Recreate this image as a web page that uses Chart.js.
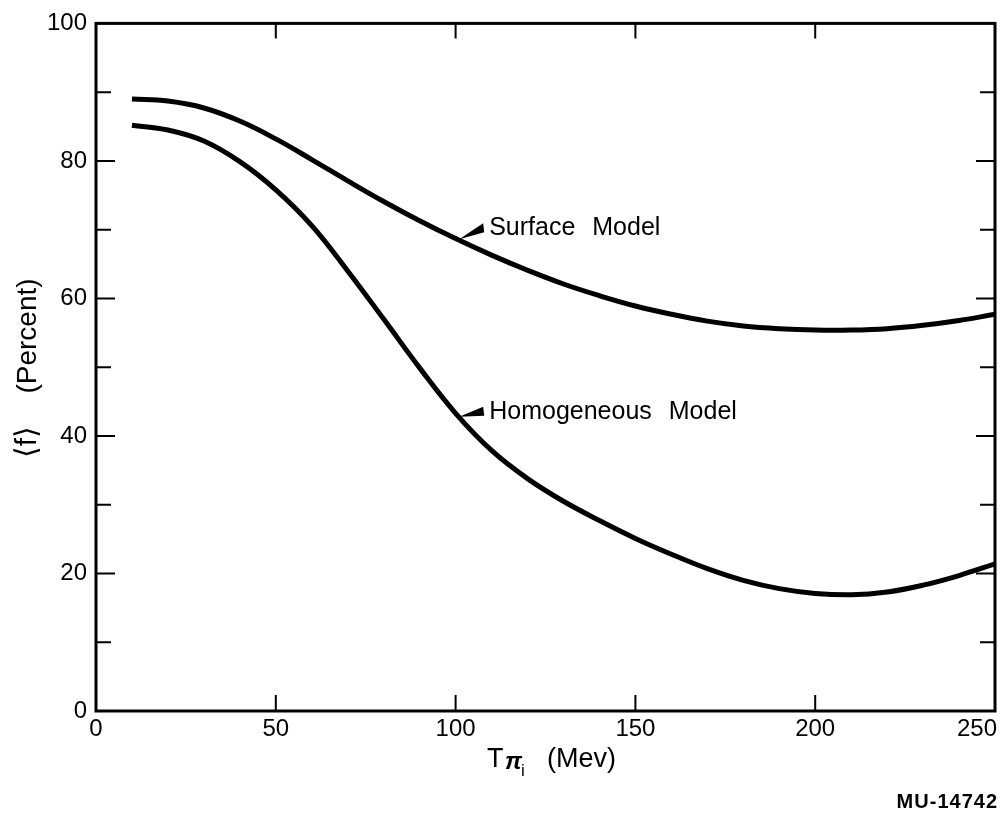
<!DOCTYPE html>
<html>
<head>
<meta charset="utf-8">
<title>Mean f vs pion energy</title>
<script src="https://cdn.jsdelivr.net/npm/chart.js@4.4.0/dist/chart.umd.min.js"></script>
<style>
  html, body { margin: 0; padding: 0; background: #fff; }
</style>
</head>
<body>
<canvas id="chart" width="1005" height="813"></canvas>
<script>
// values, every 10 Mev
var energies = [10, 20, 30, 40, 50, 60, 70, 80, 90, 100, 110, 120, 130, 140, 150, 160, 170, 180, 190, 200, 210, 220, 230, 240, 250];
var surfaceModel = [89.0, 88.7, 87.7, 85.8, 83.2, 80.2, 77.1, 74.1, 71.3, 68.7, 66.3, 64.1, 62.1, 60.4, 58.9, 57.7, 56.7, 56.0, 55.6, 55.4, 55.4, 55.6, 56.1, 56.8, 57.7];
var homogeneousModel = [85.2, 84.5, 82.9, 79.9, 75.8, 70.6, 64.0, 57.0, 49.9, 43.3, 37.9, 33.8, 30.5, 27.7, 25.1, 22.8, 20.7, 19.0, 17.8, 17.1, 16.9, 17.3, 18.3, 19.7, 21.4];

var xTicks = [0, 50, 100, 150, 200, 250];
var yTicks = [0, 20, 40, 60, 80, 100];
var yMinorTicks = [10, 30, 50, 70, 90];

var FONT = '"Liberation Sans", Arial, sans-serif';

function toPoints(ys) {
    return energies.map(function(x, i) { return { x: x, y: ys[i] }; });
}

// frame, inward ticks, titles and curve labels
var decorations = {
    id: 'decorations',
    afterDraw: function(chart) {
        var ctx = chart.ctx;
        var a = chart.chartArea;
        var xs = chart.scales.x;
        var ys = chart.scales.y;

        ctx.save();
        ctx.strokeStyle = '#000';
        ctx.fillStyle = '#000';

        // frame
        ctx.lineWidth = 3;
        ctx.strokeRect(a.left, a.top, a.right - a.left, a.bottom - a.top);

        // tick marks
        ctx.lineWidth = 2;
        ctx.beginPath();
        yTicks.concat(yMinorTicks).forEach(function(v) {
            if (v === 0 || v === 100) return;
            var py = ys.getPixelForValue(v);
            var len = yTicks.indexOf(v) >= 0 ? 19 : 15;
            ctx.moveTo(a.left, py); ctx.lineTo(a.left + len, py);
            ctx.moveTo(a.right, py); ctx.lineTo(a.right - len, py);
        });
        xTicks.forEach(function(v) {
            if (v === 0 || v === 250) return;
            var px = xs.getPixelForValue(v);
            ctx.moveTo(px, a.bottom); ctx.lineTo(px, a.bottom - 16);
            ctx.moveTo(px, a.top); ctx.lineTo(px, a.top + 15);
        });
        ctx.stroke();

        // x tick labels (last one pulled inside the page like the original)
        ctx.font = '24px ' + FONT;
        ctx.textBaseline = 'middle';
        ctx.textAlign = 'center';
        xTicks.forEach(function(v) {
            var label = String(v);
            var w = ctx.measureText(label).width;
            var px = Math.min(xs.getPixelForValue(v), chart.width - 8 - w / 2);
            ctx.fillText(label, px, a.bottom + 18);
        });

        // x title: T pi_i (Mev)
        ctx.textAlign = 'left';
        ctx.textBaseline = 'alphabetic';
        ctx.font = '27px ' + FONT;
        ctx.fillText('T', 487, 767);
        ctx.font = 'italic bold 24px ' + FONT;
        ctx.fillText('\u03c0', 505, 769);
        ctx.font = '17px ' + FONT;
        ctx.fillText('i', 521, 776);
        ctx.font = '27px ' + FONT;
        ctx.fillText('(Mev)', 547, 767);

        // y title
        ctx.save();
        ctx.translate(36, 0);
        ctx.rotate(-Math.PI / 2);
        ctx.textAlign = 'center';
        ctx.font = '28px ' + FONT;
        ctx.fillText('(Percent)', -336, 0);
        ctx.font = '30px ' + FONT;
        ctx.fillText('\u27e8f\u27e9', -442, 0);
        ctx.restore();

        // curve labels with wedge pointers
        function pointer(xv, yv, text, dx, dy) {
            var tx = xs.getPixelForValue(xv);
            var ty = ys.getPixelForValue(yv);
            ctx.beginPath();
            ctx.moveTo(tx, ty);
            ctx.lineTo(tx + 24, ty + dy - 4);
            ctx.lineTo(tx + 25, ty + dy + 5);
            ctx.closePath();
            ctx.fill();
            ctx.font = '25px ' + FONT;
            ctx.wordSpacing = '10px';
            ctx.fillText(text, tx + dx, ty + dy + 8);
            ctx.wordSpacing = '0px';
        }
        pointer(101, 68.6, 'Surface Model', 30, -12);
        pointer(101, 42.8, 'Homogeneous Model', 30, -6);

        // figure number
        ctx.font = 'bold 20px ' + FONT;
        ctx.textAlign = 'right';
        ctx.letterSpacing = '1px';
        ctx.fillText('MU-14742', 998, 808);
        ctx.restore();
    }
};

new Chart(document.getElementById('chart'), {
    type: 'line',
    data: {
        datasets: [
            {
                label: 'Surface Model',
                data: toPoints(surfaceModel),
                borderColor: '#000',
                borderWidth: 5,
                pointRadius: 0,
                tension: 0.4,
                fill: false
            },
            {
                label: 'Homogeneous Model',
                data: toPoints(homogeneousModel),
                borderColor: '#000',
                borderWidth: 5,
                pointRadius: 0,
                tension: 0.4,
                fill: false
            }
        ]
    },
    options: {
        responsive: false,
        animation: false,
        layout: {
            padding: { top: 23, right: 10, bottom: 0, left: 0 }
        },
        plugins: {
            legend: { display: false },
            tooltip: { enabled: false }
        },
        scales: {
            x: {
                type: 'linear',
                min: 0,
                max: 250,
                grid: { display: false, drawTicks: false },
                border: { display: false },
                ticks: { display: false },
                afterFit: function(scale) {
                    scale.height = 102;
                    scale.paddingLeft = 0;
                    scale.paddingRight = 0;
                }
            },
            y: {
                min: 0,
                max: 100,
                grid: { display: false, drawTicks: false },
                border: { display: false },
                ticks: {
                    stepSize: 20,
                    padding: 9,
                    color: '#000',
                    font: { family: FONT, size: 24 }
                },
                afterFit: function(scale) {
                    scale.width = 96;
                }
            }
        }
    },
    plugins: [decorations]
});
</script>
</body>
</html>
